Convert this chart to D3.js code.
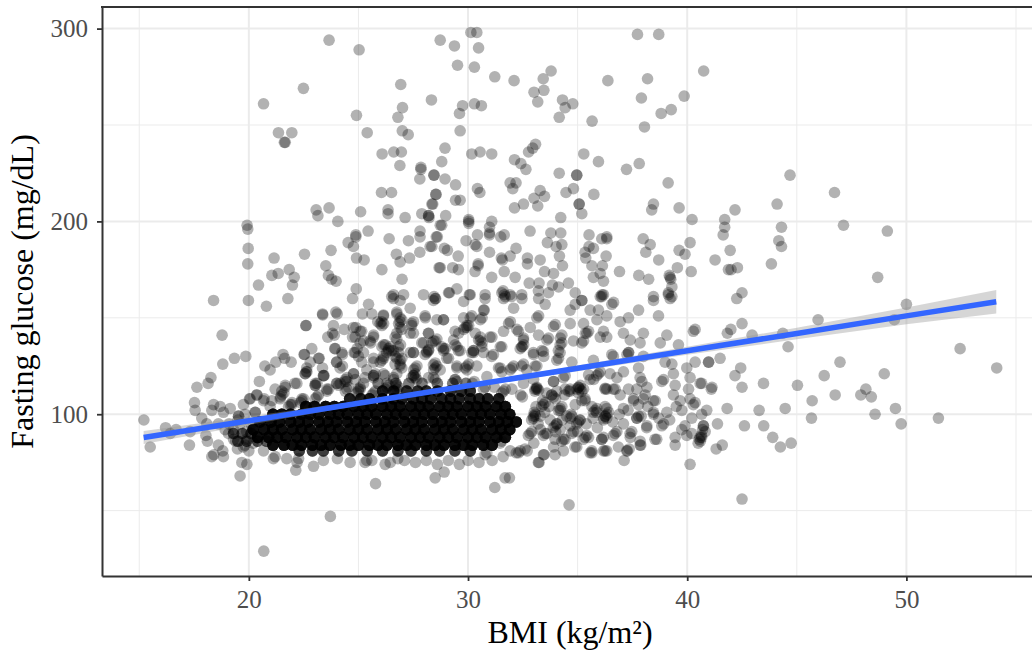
<!DOCTYPE html>
<html lang="en">
<head>
<meta charset="UTF-8">
<title>BMI vs fasting glucose</title>
<script src="https://d3js.org/d3.v7.min.js"></script>
<style>
  html, body { margin: 0; padding: 0; background: #fff; overflow: hidden; }
  svg { display: block; }
  text { font-family: "Liberation Serif", serif; }
  .tick text { font-size: 25px; fill: #4d4d4d; }
  .title { font-size: 32px; fill: #000; }
</style>
</head>
<body>
<script>
// [bmi, glucose]
const upperPoints = [
  [23.66,294],[25.03,289],[22.49,269],[20.67,261],[26.93,271],[28.73,294],[27.01,259],[26.8,254],[28.33,263],[24.91,255],
  [25.4,246],[21.35,246],[21.96,246],[21.66,241],[21.62,241],[27,247],[27.27,245],[26.08,235],[26.61,236],[26.96,236],
  [26.89,229],[27.85,228],[27.85,227],[27.8,222],[28.44,224],[28.8,231],[26.05,215],[26.51,215],[28.53,214],[28.35,209],
  [23.07,206],[23.15,203],[23.66,207],[25.1,205],[26.35,206],[26.35,204],[27.13,202],[27.89,204],[28.2,203],[28.2,203],[28.22,202],
  [19.92,198],[19.95,196],[24.06,200],[24.88,193],[24.88,192],[25.44,195],[26.4,191],[27.28,190],[27.81,195],[27.81,192],
  [28.55,192],[28.73,198],[24.53,189],[24.77,187],[23.75,185],[28.27,187],[19.97,186],[22.54,183],[21.15,181],[26.73,183],
  [27.8,184],[27.33,181],[26.9,179],[24.91,181],[25.26,180],[19.95,178],[23.51,177],[21.84,175],[26.07,175],[28.68,176],
  [21.34,173],[21.05,172],[22.07,171],[23.63,172],[23.78,170],[23.98,169],[26.99,170],[20.44,167],[21.99,167],[24.9,165],
  [29.38,291],[30.13,298],[30.4,298],[30.48,290],[29.52,281],[30.29,280],[31.22,275],[32.1,273],[33.79,278],[33.43,274],
  [33.46,268],[33.01,267],[33.18,262],[36.38,273],[38.19,274],[37.73,297],[38.7,297],[40.75,278],[39.86,265],[37.91,264],
  [39.27,258],[38.81,256],[38.05,249],[34.31,263],[34.43,259],[34.78,261],[34.16,254],[35.66,252],[29.75,260],[29.61,256],
  [30.29,261],[30.61,260],[29.64,247],[28.95,238],[30.17,235],[30.55,236],[31.08,235],[33.08,240],[32.95,238],[32.76,236],
  [32.12,232],[32.41,230],[32.64,227],[35.28,235],[35.95,231],[34.96,224],[34.96,224],[34.16,225],[37.23,227],[37.81,230],
  [39.13,220],[28.45,224],[28.95,222],[29.43,219],[30.43,217],[30.54,215],[31.92,220],[32.19,220],[32.04,217],[33.29,216],
  [33.49,213],[33.01,212],[32.53,209],[32.12,207],[33.18,208],[34.47,215],[34.81,217],[35.74,214],[35.07,209],[35.07,209],
  [35.19,204],[38.46,209],[38.38,206],[39.63,207],[40.22,201],[41.71,201],[41.71,197],[41.64,193],[28.54,214],[28.39,209],
  [29.43,211],[29.64,211],[28.98,203],[28.8,198],[28.6,192],[28.35,187],[30.03,201],[30.03,200],[30.03,199],[31.08,200],
  [30.98,197],[30.98,193],[30.98,194],[31.49,192],[31.65,193],[32.83,195],[33.78,194],[34.23,194],[34.23,202],[29.91,190],
  [30.43,193],[30.4,187],[30.32,188],[28.92,186],[29.06,185],[29.55,182],[28.73,176],[29.3,176],[29.56,175],[30.46,178],
  [30.46,177],[30.32,174],[30.98,184],[31.57,180],[31.52,181],[31.92,182],[32.19,186],[32.71,181],[32.71,178],[33.29,180],
  [33.49,174],[33.9,173],[33.62,189],[34.02,187],[34.28,188],[34.17,182],[34.31,177],[35.52,193],[35.34,184],[35.37,181],
  [35.72,186],[35.52,187],[36.1,191],[36.33,192],[36.33,191],[36.3,182],[35.65,177],[36.13,177],[36.03,173],[35.72,171],
  [36.18,169],[36.91,174],[37.99,191],[38.31,188],[38.11,184],[38.7,180],[37.79,172],[38.24,170],[40.13,189],[39.63,185],
  [39.9,183],[39.55,176],[40.18,174],[41.27,180],[41.96,185],[41.88,175],[39.22,171],[39.18,172],[39.25,170],[39.3,166],
  [39.14,163],[39.14,162],[38.46,161],[31.08,171],[31.65,174],[32.15,171],[32.79,168],[33.24,168],[33.21,164],[33.67,163],
  [33.85,167],[34.13,166],[34.58,168],[34.89,163],[35.19,159],[29.15,163],[29.49,165],[30.06,162],[30.78,162],[31.54,163],
  [31.6,164],[31.66,162],[31.92,162],[31.98,161],[32.45,162],[28.45,161],[28.52,160],[36.1,161],[36.18,162]
];
const rightPoints = [
  [44.69,224],[46.72,215],[44.1,209],[42.18,206],[44.3,197],[47.13,198],[49.13,195],[44.18,190],[44.3,187],[42,175],
  [42.29,176],[43.84,178],[48.69,171],[42.5,163],[42.26,160],[50,157],[45.97,149],[49.45,149],[42.5,147],[41.99,144],
  [41.83,142],[42.96,141],[44.36,142],[44.6,135],[41.5,129],[40.98,127],[42.44,124],[42.18,120],[43.48,116],[42.5,114],
  [41.13,114],[41.1,113],[40.66,116],[45.03,115],[46.25,120],[46.97,127],[48.99,121],[45.7,107],[46.75,110],[52.45,134],
  [54.12,124],[48.15,113],[47.92,110],[48.4,109],[48.57,100],[49.5,103],[49.76,95],[51.46,98],[45.67,98],[44.47,103],
  [43.28,102],[41.82,103],[40.89,102],[41.38,95],[42.61,94],[43.49,94],[43.9,88],[44.25,83],[44.74,85],[41.6,84],
  [41.32,82],[42.5,56],[40.74,94],[40.7,92],[40.66,88],[40.6,86]
];
const leftPoints = [
  [18.39,159],[19.98,159],[20.8,156],[21.78,160],[24.73,160],[25.46,157],[25.18,152],[25.61,152],[23.36,152],[23.97,153],
  [24.03,152],[26.14,151],[25.88,148],[26.07,146],[26.15,147],[22.6,146],[23.86,146],[18.78,141],[23.6,140],[23.9,141],
  [24.35,144],[24.88,145],[25.15,143],[24.73,140],[25.69,140],[23.92,134],[22.87,134],[22.54,131],[21.56,131],[19.86,130],
  [19.34,129],[18.81,126],[24.27,131],[24.8,132],[25.23,138],[25.56,137],[26.22,136],[26.52,133],[25,130],[25.15,127],
  [25.99,127],[26.14,130],[23.21,129],[22.8,127],[21.93,127],[21.63,129],[21.23,127],[20.97,123],[20.73,125],[24,127],
  [24.27,125],[22.64,124],[22.57,121],[23.36,124],[23.43,120],[24.77,121],[18.27,119],[18.14,116],[17.63,114],[20.48,117],
  [22.19,116],[21.66,114],[23.04,116],[24,116],[24.47,117],[24.85,118],[25.3,119],[25.69,120],[21.2,113],[21.5,112],
  [21.43,108],[20.36,110],[20.03,108],[20.7,108],[21.05,107],[19.75,105],[22.42,108],[21.96,105],[17.52,106],[18.39,105],
  [18.69,104],[17.55,102],[18.31,102],[18.84,101],[19.15,103],[17.85,98],[19.53,99],[19.83,100],[20.29,101],[15.21,97],
  [16.2,93],[16.68,92],[16.41,90],[17.32,91],[18.08,95],[18.61,95],[18.04,89],[18.11,86],[18.61,84],[17.29,84],
  [15.5,83],[18.31,78],[18.4,79],[18.84,78],[18.81,81],[19.48,82],[19.75,83],[19.82,84],[19.07,90],[19.3,87],
  [18.92,92],[19.68,75],[19.91,74],[19.6,68],[20.67,81],[21.12,77],[21.2,78],[21.73,77],[22.2,75],[22.27,77],
  [22.14,71],[22.95,73],[23.4,76],[24.04,77],[24.62,75],[25.3,75],[25.38,76],[25.61,76],[26.22,74],[26.45,75],
  [25.78,64],[23.72,47],[20.68,29],[26.52,161],[26.6,162],[26.9,159],[26.75,152],[26.83,147],[26.67,140],[26.83,135],
  [26.92,136],[26.29,132],[26.36,133],[26.67,130],[25.69,127],[25.38,123],[26.14,121],[26.67,126],[26.6,119],
  [19.3,92],[19.6,95],[19.9,91],[19.4,86],[19.9,87],[19.5,97],[20.1,95],[19.1,95],[20.2,85],[20,81],
  [20.37,110],[20.06,108],[19.53,99],[20.29,101],[20.67,107],[20.97,104],[21.66,115],[21.51,110],[21.6,111],[21.44,109],
  [22.1,116],[21.89,105],[21.97,106],[21.81,104],[22.42,107],[22.5,108],[22.35,106],[23.03,115],[23.11,116],[23.1,109],
  [23.18,110],[23.02,108],[23.56,112],[23.64,113],[24.02,116],[24.47,113],[24.55,114],[24.4,112],[25,112],[25.08,113],[24.93,111],
  [24.4,118],[24.48,119],[25.69,120],[25.77,121],[26.3,114],[26.38,115],[26.22,113],[26.3,116],[26.75,113],[26.83,114],[26.68,112],
  [26.75,115],[25.69,111],[25.77,112],[25.62,110],[25.23,116],[24.78,121],[23.41,120],[22.57,121],[22.65,122]
];
const middlePoints = [
  [26.6,160],[27.06,162],[26.75,153],[27.36,155],[27.97,162],[28.42,159],[28.5,160],[28.05,150],[28.58,149],[28.88,149],
  [26.9,148],[26.98,149],[27.43,146],[28.2,142],[27.36,142],[26.75,142],[29.11,163],[29.8,158.5],[30.1,162],[30.78,160],
  [31.62,160],[31.7,161],[32.46,160],[33.52,157],[33.22,160],[32.08,155],[30.74,154],[29.8,150],[30.1,150],[30.56,149],
  [30.64,150],[29.95,145],[30.03,146],[29.57,142],[29.34,138.5],[30.48,138.5],[30.56,140],[31,140],[31.62,143],[31.85,147],
  [31.93,148],[32.23,144],[32.84,145],[33.14,150],[33.22,151],[33.9,145.5],[33.98,146.5],[34.66,154],[34.66,147],[33.22,141],
  [34.28,141],[33.6,138.5],[28.35,137],[28.43,138],[27.97,137],[28.88,133],[28.96,134],[28.12,132.5],[28.2,133.5],[29.49,135],
  [29.64,133],[30.17,132],[30.25,133],[31.08,130],[31.16,131],[30.63,135],[31.54,135],[32.53,138.5],[32.38,134],[32.46,135],
  [34.2,136],[34.28,137],[34.12,133],[34.2,132],[34.81,138],[35.42,142],[35.5,143],[35.19,137],[35.27,138],[36.03,140],
  [36.33,140],[37.4,138.5],[37.85,137],[38,142],[38.77,137],[39.07,141],[39.6,136],[40.28,143],[40.36,144],[26.75,129],
  [27.51,132],[26.9,126],[27.51,120],[27.59,121],[27.43,119],[26.6,133],[29.03,129],[28.42,125.6],[28.5,126.6],[28.2,119],
  [28.73,123],[29.41,118],[29.95,125],[30.03,126],[29.49,124],[30.4,125],[30.86,119.5],[31.39,124],[31.92,123],[31.54,122],
  [32.45,125],[32.68,123],[33.06,125],[32.98,132],[33.44,132.5],[34.05,128],[34.13,129],[34.73,127],[35.72,128],[35.95,121],
  [36.03,122],[36.63,130],[37.32,132],[38,130],[38.99,127],[34.89,157],[35.19,159],[35.57,154],[35.27,147],[36.03,161],
  [36.11,162],[35.95,154],[36.33,151],[36.56,157],[36.64,158],[36.94,148],[37.09,142],[37.32,150],[37.78,154],[38.46,159],
  [38.69,151],[39.22,160],[39.3,161],
  [22.61,146],[23.37,151.5],[23.82,142],[23.94,134],[22.52,131],[23.18,129],[22.62,122],[24.24,132],[24.01,127],[24.16,124],
  [23.4,120],[23.02,115],[24.77,145],[24.85,140],[25.08,143],[25.08,137],[25.53,138],[24.85,132],[24.94,134],[25.23,132],
  [24.39,117],[25.69,119],[25.69,141],[25.99,147],[26.06,148],[26.14,151.5],[26.07,135],[26.15,136],[26.37,134],[26.45,135],
  [26.83,132],[26.07,128],[26.15,129],[25.69,129],[26.9,128],[26.98,129],[26.22,120],[26.75,121],[26.9,125],[26.98,124],
  [27.59,124],[27.67,125],[27.52,123],[27.59,119],[27.67,118],[27.52,120],[27.36,132],[28.19,142],[27.89,137],[28.12,132],
  [28.2,133],[28.04,131],[28.5,138],[28.58,139],[28.88,134],[28.8,135],[27.51,132],[29.11,129],[28.5,124],[28.58,125],
  [28.43,123],[28.42,119],[28.5,118],[29.41,136],[29.56,133],[29.49,125],[29.87,124],[29.95,123],[30.25,132],[29.41,143],
  [29.87,145],[29.95,146],[29.8,144],[30.17,151],[28.88,149],[28.04,151],[26.9,145],[26.98,144],[27.43,147],[27.51,148],
  [26.9,150],[27.51,142],[26.75,139],[29.41,118],[29.49,117],[24.09,115],[24.17,116],[23.56,113],[25,113],[25.08,114],[26.6,118],
  [30.71,154],[30.33,142],[30.56,138],[30.64,137],[31.09,140],[30.25,133],[30.71,132],[31.47,135],[32.3,143],[32.53,139.5],
  [32.46,135],[32.54,136],[33.67,139.5],[34.21,139.5],[33.37,133],[33.45,130],[32.99,131],[36.56,131],[37.25,131],[37.33,132],
  [35.35,142],[36.18,143],[35.88,149]
];
const lowerPoints = [
  [28.5,67],[28.91,70],[31.69,67],[31.89,67],[31.22,62],[34.61,53],[40.13,74],[37.12,76],[33.24,75],[33.47,79],
  [35.65,80],[36.33,81],[37.27,81],[37.35,82],[37.88,84],[39.45,84],[40.5,85],[40.59,88],[40.65,89],[40.55,87],
  [39.98,124],[40.36,127],[40.97,127],[39.3,126],[39.37,121],[38.84,117],[38.92,118],[37.78,124],[37.85,119],[37.93,117],
  [37.09,122],[36.48,121],[36.79,119],[35.87,120],[35.57,118],[40.13,119],[40.59,116],[40.06,113],[39.45,115],[38.16,114],
  [37.7,113],[37.32,113],[36.33,113],[36.63,113],[36.94,110],[35.04,114],[35.27,113],[34.58,112],[34.43,113],[33.9,117],
  [34.35,119],[33.06,113],[33.14,114],[33.82,110],[33.59,111],[39.37,110],[39.68,107],[40.28,105],[40.36,106],[40.13,108],
  [38,108],[38.54,107],[37.78,105],[37.55,107],[37.09,103],[36.25,104],[36.33,100],[36.41,101],[36.26,99],[35.87,101],
  [35.65,104],[36.18,98],[35.19,107],[34.89,105],[34.2,102],[34.5,99],[35.1,97],[35.34,107],[33.75,97],[34.05,95],
  [34.66,94],[33.29,99],[32.98,99],[33.06,100],[37.7,98],[37.78,99],[37.09,95],[37.47,91],[38.16,94],[38.46,101],
  [39.07,101],[38.84,94],[38.92,95],[39.75,102],[40.21,98],[40.66,100],[40.74,94],[39.98,89],[40.21,90],[38.61,87],
  [37.85,84],[37.4,88],[36.79,91],[36.1,87],[36.18,88],[35.5,88],[34.96,83],[34.35,81],[33.9,83],[33.97,87],
  [34.43,87],[39.45,88],[39.75,92],[40.82,91],[36.18,81],[33.4,107],[33.7,104],[34,108],[34.4,110],[33.1,104],
  [33.3,92],[33.6,90],[34,91],[34.3,97],[34.7,100],[35,91],[35.4,95],[35.7,98],[35.9,93],[36.6,96],
  [36.9,100],[37.3,102],[37.9,99],[38.2,104],[38.7,98],[39.2,97],[39.5,104],[39.9,94],[32.7,81],[33,85],
  [31.6,78],[31.1,76],[30.5,75],[30,76],[29.6,74],[29.1,76],[28.6,74],[28.1,76],[27.6,75],[27.1,76],[26.8,77],[32.2,80],
  [31.47,124],[32,124],[32.08,125],[32.53,126],[33.14,125],[33.9,117],[34.43,120],[35.5,120.4],[33.14,113.5],[33.22,112.5],
  [35.04,114],[35.12,115],[34.96,113],[34.05,112],[34.66,112],[35.73,118],[36.26,113.5],[31.62,112],[31.7,113],[31.54,111],
  [31.2,114],[30.7,113],[30.78,114],[30.2,116],[30.28,117],[32.53,116],[32.99,118],[32,113],[32.4,110],[32.48,109],
  [33.13,113],[33.05,112],[33.82,110],[33.9,109],[34.66,113],[35.11,113],[35.19,112],[35.03,111],[36.25,113],[36.71,113],
  [37.55,108],[38.08,110],[38.46,107],[35.8,102],[35.88,103],[35.72,101],[36.33,103],[36.25,99],[36.33,98],[36.18,97],
  [34.2,103],[34.28,104],[34.12,102],[32.98,98],[33.06,99],[32.9,97],[33.02,101],[33.97,94],[34.05,95],[33.89,93],
  [35.04,96],[35.12,97],[34.96,95],[34.66,98],[34.74,99],[35.34,108],[33.44,105],[33.52,106],[33.36,104],[37.7,98],
  [38.15,93],[38.46,100],[36.63,89],[36.71,90],[36.1,87],[35.34,88],[35.42,89],[35.26,87],[34.73,90],[34.81,91],
  [34.28,86],[34.36,87],[33.44,89],[33.52,90],[32.83,90],[32.91,91],[32.75,89],[32.6,82],[32.3,80],[32.38,81],
  [31.92,81],[31.46,85],[31.54,86],[30.78,79],[30.86,80],[34.88,83],[35.57,80],[35.65,81],[36.25,81],[37.24,81],
  [37.85,86],[38.53,87],[33.44,79],[33.21,75],[33.97,79],[37.39,90],[36.86,83],[33.5,101],[33.2,95],[34.2,92]
];

// dense black band: one row per glucose level, how many records pile up per spot, and the bmi spots
const coreGlucose = [116, 112, 108, 104, 100, 96, 92, 88, 84, 81, 90, 86];
const coreCount = [2, 5, 6, 8, 8, 8, 8, 8, 8, 4, 3, 3];
const coreBmi = [
  [25.9,26.7,27.3,27.9,28.6,29.3,29.9],
  [26.1,26.6,27.2,27.7,28.1,28.6,29.2,29.7,30.1],
  [24.6,25.1,25.5,26.1,26.6,27,27.5,27.9,28.3,28.8,29.2,29.6,30.1,30.5,30.9,31.4],
  [22.6,23,23.5,23.9,24.3,24.8,25.2,25.6,26.1,26.5,26.9,27.4,27.8,28.2,28.7,29.1,29.5,30,30.4,30.8,31.3,31.7],
  [21.1,21.5,21.9,22.4,22.8,23.2,23.7,24.1,24.5,25,25.4,25.8,26.3,26.7,27.1,27.6,28,28.4,28.9,29.3,29.7,30.2,30.6,31,31.5,31.9],
  [20.5,21,21.4,21.9,22.3,22.7,23.2,23.6,24,24.5,24.9,25.3,25.8,26.2,26.6,27.1,27.5,27.9,28.4,28.8,29.2,29.7,30.1,30.5,31,31.4,31.8,32.2],
  [20.2,20.7,21.1,21.5,22,22.4,22.8,23.3,23.7,24.1,24.6,25,25.4,25.9,26.3,26.7,27.2,27.6,28,28.5,28.9,29.3,29.8,30.2,30.6,31.1,31.5,31.9],
  [20.4,20.9,21.3,21.7,22.2,22.6,23,23.5,23.9,24.3,24.8,25.2,25.6,26.1,26.5,26.9,27.4,27.8,28.2,28.7,29.1,29.5,30,30.4,30.8,31.3,31.7],
  [21.1,21.6,22,22.4,22.9,23.3,23.7,24.2,24.6,25,25.5,25.9,26.3,26.8,27.2,27.6,28.1,28.5,28.9,29.4,29.8,30.2,30.7,31.1],
  [22.3,22.9,23.4,24.1,24.7,25.4,26.1,26.8,27.4,28.1,28.7,29.4,30.1],
  [19.3,19.7,20.1],
  [19.5,19.9,20.4,20.8]
];

// fitted line and its band
const smoothBmi = [15.2, 20, 25, 27.5, 30, 35, 40, 45, 50, 54.1];
const smoothFit = [87.9, 96.6, 105.7, 110.2, 114.8, 123.8, 132.9, 141.9, 151, 158.3];
const smoothSe = [3.4, 2.2, 1.2, 1, 1.1, 1.5, 2.1, 3, 4.3, 6.1];

const xMajor = [20, 30, 40, 50];
const xMinor = [15, 25, 35, 45, 55];
const yMajor = [100, 200, 300];
const yMinor = [50, 150, 250];

const width = 1032, height = 652;
const margin = { top: 7, right: 0, bottom: 76, left: 102 };

const svg = d3.select('body').append('svg')
  .attr('width', width)
  .attr('height', height);

const x = d3.scaleLinear().domain([13.3, 55.73]).range([margin.left, width]);
const y = d3.scaleLinear()
  .domain([16.1, 311.2])
  .range([height - margin.bottom, margin.top]);

// grid
const grid = svg.append('g').attr('stroke', '#ebebeb');
grid.selectAll('.vmin').data(xMinor).join('line').attr('class', 'vmin')
  .attr('x1', d => x(d)).attr('x2', d => x(d))
  .attr('y1', margin.top).attr('y2', height - margin.bottom).attr('stroke-width', 1);
grid.selectAll('.hmin').data(yMinor).join('line').attr('class', 'hmin')
  .attr('x1', margin.left).attr('x2', width)
  .attr('y1', d => y(d)).attr('y2', d => y(d)).attr('stroke-width', 1);
grid.selectAll('.vmaj').data(xMajor).join('line').attr('class', 'vmaj')
  .attr('x1', d => x(d)).attr('x2', d => x(d))
  .attr('y1', margin.top).attr('y2', height - margin.bottom).attr('stroke-width', 2);
grid.selectAll('.hmaj').data(yMajor).join('line').attr('class', 'hmaj')
  .attr('x1', margin.left).attr('x2', width)
  .attr('y1', d => y(d)).attr('y2', d => y(d)).attr('stroke-width', 2);

// points
const corePoints = coreGlucose.flatMap((g, i) =>
  coreBmi[i].flatMap(b => d3.range(coreCount[i]).map(() => [b, g])));
const points = [...upperPoints, ...rightPoints, ...leftPoints, ...middlePoints, ...lowerPoints, ...corePoints];

svg.append('g').selectAll('circle')
  .data(points)
  .join('circle')
  .attr('cx', d => x(d[0]))
  .attr('cy', d => y(d[1]))
  .attr('r', 5.8)
  .attr('fill', '#000')
  .attr('fill-opacity', 0.3);

// band + line
const ribbon = d3.area()
  .x((d, i) => x(smoothBmi[i]))
  .y0((d, i) => y(smoothFit[i] - smoothSe[i]))
  .y1((d, i) => y(smoothFit[i] + smoothSe[i]));
svg.append('path').attr('d', ribbon(smoothBmi))
  .attr('fill', '#999').attr('fill-opacity', 0.4);

const fitLine = d3.line().x((d, i) => x(smoothBmi[i])).y((d, i) => y(smoothFit[i]));
svg.append('path').attr('d', fitLine(smoothBmi))
  .attr('fill', 'none').attr('stroke', '#3366ff').attr('stroke-width', 5.5);

// axes
const xAxis = svg.append('g')
  .attr('transform', `translate(0,${height - margin.bottom})`)
  .call(d3.axisBottom(x).tickValues(xMajor).tickSize(5).tickSizeOuter(0).tickPadding(9));
const yAxis = svg.append('g')
  .attr('transform', `translate(${margin.left},0)`)
  .call(d3.axisLeft(y).tickValues(yMajor).tickSize(5).tickSizeOuter(0).tickPadding(9));
[xAxis, yAxis].forEach(a => {
  a.attr('font-family', null).attr('font-size', null);
  a.selectAll('.tick line').attr('stroke', '#333').attr('stroke-width', 1.8);
  a.select('.domain').attr('stroke', '#333').attr('stroke-width', 2);
});

// top of the frame (right side falls off the picture)
svg.append('line')
  .attr('x1', margin.left - 1).attr('x2', width)
  .attr('y1', margin.top).attr('y2', margin.top)
  .attr('stroke', '#333').attr('stroke-width', 2);

svg.append('text').attr('class', 'title')
  .attr('x', 570).attr('y', 643)
  .attr('text-anchor', 'middle')
  .text('BMI (kg/m²)');
svg.append('text').attr('class', 'title')
  .attr('transform', 'translate(33,291.5) rotate(-90)')
  .attr('text-anchor', 'middle')
  .text('Fasting glucose (mg/dL)');
</script>
</body>
</html>
